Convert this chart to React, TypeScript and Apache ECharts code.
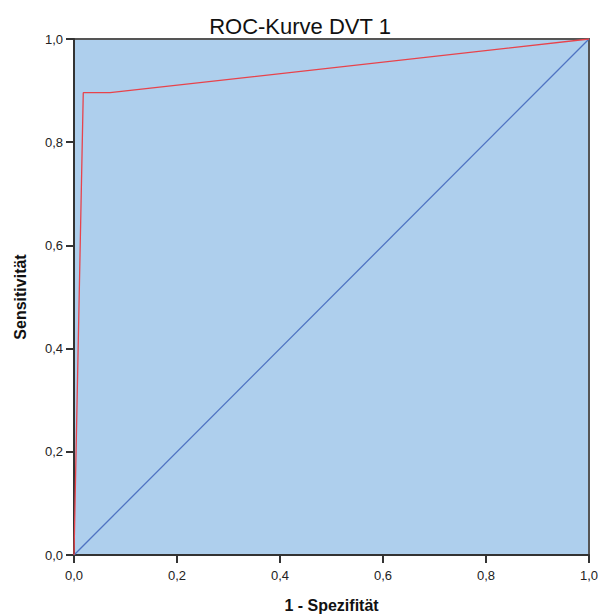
import React, { useEffect, useRef } from "react";
import * as echarts from "echarts";

const rocX = [0, 0.018, 0.07, 1];
const rocY = [0, 0.896, 0.896, 1];
const refX = [0, 1];
const refY = [0, 1];
const titleText = "ROC-Kurve DVT 1";
const xName = "1 - Spezifität";
const yName = "Sensitivität";

export default function App() {
  const ref = useRef<HTMLDivElement>(null);
  useEffect(() => {
    document.body.style.margin = "0";
    document.body.style.overflow = "hidden";
    if (!ref.current) return;
    const chart = echarts.init(ref.current, undefined, { renderer: "svg" });
    const fmt = (v: number) => v.toFixed(1).replace(".", ",");
    const font = "Liberation Sans, Arial, sans-serif";
    chart.setOption({
      animation: false,
      title: {
        text: titleText,
        left: 295,
        top: 10,
        textAlign: "center",
        textStyle: { fontFamily: font, fontSize: 22, fontWeight: "normal", color: "#111" },
      },
      grid: {
        left: 74,
        top: 39,
        width: 515,
        height: 516,
        containLabel: false,
        outerBoundsMode: "none",
        show: true,
        backgroundColor: "#aecfed",
        borderColor: "#555",
        borderWidth: 2,
      },
      xAxis: {
        type: "value",
        min: 0,
        max: 1,
        interval: 0.2,
        name: xName,
        nameLocation: "middle",
        nameGap: 42,
        nameTextStyle: { fontFamily: font, fontSize: 16, fontWeight: "bold", color: "#111" },
        axisLine: { show: true, lineStyle: { color: "#333", width: 2 } },
        axisTick: { show: true, length: 8, lineStyle: { color: "#333", width: 2 } },
        axisLabel: { formatter: fmt, fontFamily: font, fontSize: 13, color: "#222", margin: 14 },
        splitLine: { show: false },
      },
      yAxis: {
        type: "value",
        min: 0,
        max: 1,
        interval: 0.2,
        name: yName,
        nameLocation: "middle",
        nameGap: 46,
        nameTextStyle: { fontFamily: font, fontSize: 16, fontWeight: "bold", color: "#111" },
        axisLine: { show: true, lineStyle: { color: "#333", width: 2 } },
        axisTick: { show: true, length: 8, lineStyle: { color: "#333", width: 2 } },
        axisLabel: { formatter: fmt, fontFamily: font, fontSize: 13, color: "#222", margin: 11 },
        splitLine: { show: false },
      },
      series: [
        {
          type: "line",
          data: refX.map((x, i) => [x, refY[i]]),
          symbol: "none",
          lineStyle: { color: "#4f73c2", width: 1.3 },
        },
        {
          type: "line",
          data: rocX.map((x, i) => [x, rocY[i]]),
          symbol: "none",
          lineStyle: { color: "#e8434b", width: 1.3 },
        },
      ],
    });
    return () => chart.dispose();
  }, []);
  return <div ref={ref} style={{ width: 598, height: 614 }} />;
}
